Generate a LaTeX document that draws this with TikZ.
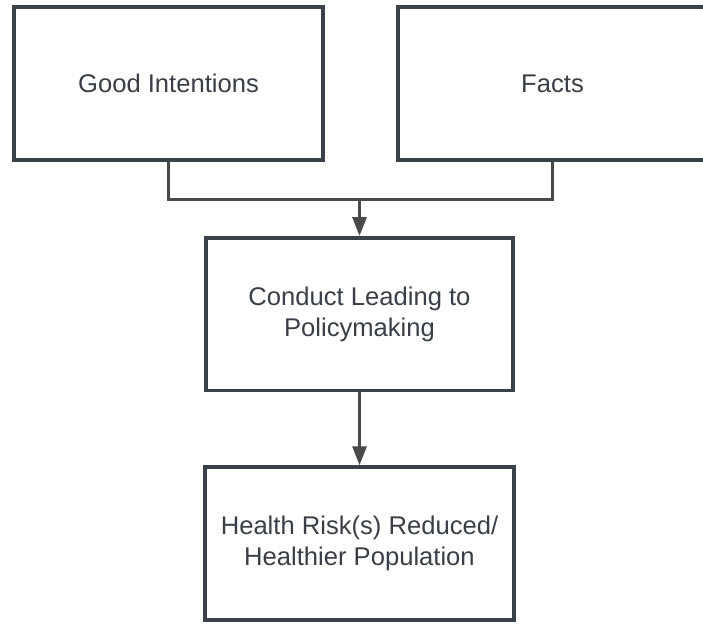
\documentclass[tikz,border=0pt]{standalone}
\usepackage{fontspec}
\setmainfont{Liberation Sans}
\usetikzlibrary{arrows.meta}
\definecolor{boxline}{HTML}{3B414A}
\definecolor{connline}{HTML}{4A4A4A}
\definecolor{txt}{HTML}{3A3F47}
\tikzset{
  box/.style={draw=boxline, line width=3.5pt, fill=white, align=center,
    text=txt, font=\fontsize{25.6pt}{31pt}\selectfont,
    minimum width=309pt, minimum height=153pt, inner sep=0pt},
  conn/.style={draw=connline, line width=3pt},
  arr/.style={-{Triangle[width=14pt,length=19pt]}}
}
\begin{document}
\begin{tikzpicture}[x=1pt,y=-1pt]
  \path[use as bounding box, fill=white] (0,0) rectangle (703,623);
  \node[box] (gi) at (168.5,83.5) {Good Intentions};
  \node[box] (facts) at (552.5,83.5) {Facts};
  \node[box, minimum width=307pt, minimum height=152.5pt] (cond) at (359.5,314) {Conduct Leading to\\Policymaking};
  \node[box] (health) at (359.5,543.5) {Health Risk(s) Reduced/\\Healthier Population};
  \coordinate (j) at (359.5,199);
  \draw[conn] (gi.south) |- (j) -| (facts.south);
  \draw[conn,arr] (j) -- (cond.north);
  \draw[conn,arr] (cond.south) -- (health.north);
\end{tikzpicture}
\end{document}
